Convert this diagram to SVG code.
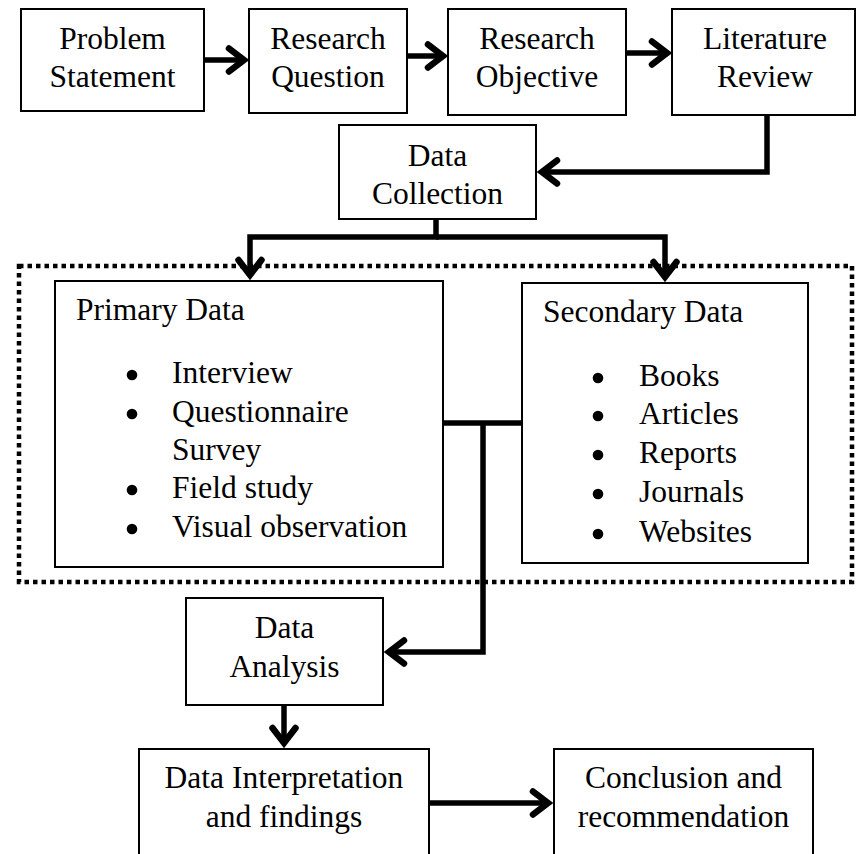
<svg xmlns="http://www.w3.org/2000/svg" width="857" height="854" viewBox="0 0 857 854">
  <style>
    .box { fill: #ffffff; stroke: #000000; stroke-width: 2; }
    .lbl { font-family: "Liberation Serif", "Times New Roman", serif; font-size: 31.5px; fill: #000000; }
    .mid { text-anchor: middle; }
    .link { fill: none; stroke: #000000; stroke-width: 5.5; stroke-linejoin: miter; }
    .frame { fill: none; stroke: #000000; stroke-width: 4.5; stroke-dasharray: 4.5 4; }
    .dot { fill: #000000; }
  </style>
  <defs>
    <marker id="head" markerUnits="userSpaceOnUse" markerWidth="40" markerHeight="40" refX="0" refY="0" viewBox="-20 -20 30 40" orient="auto" overflow="visible">
      <path d="M-15,-11.5 L0,0 L-15,11.5" fill="none" stroke="#000000" stroke-width="6.5" stroke-linecap="round" stroke-linejoin="miter"/>
    </marker>
  </defs>

  <rect x="0" y="0" width="857" height="854" fill="#ffffff"/>

  <!-- dotted grouping frame around the two data sources -->
  <rect class="frame" x="19" y="266" width="833" height="316"/>

  <g id="problem-statement">
    <rect class="box" x="21" y="9" width="183" height="102"/>
    <text class="lbl mid" x="112.5" y="49">Problem</text>
    <text class="lbl mid" x="112.5" y="87">Statement</text>
  </g>

  <g id="research-question">
    <rect class="box" x="249" y="9" width="158" height="104"/>
    <text class="lbl mid" x="328" y="49">Research</text>
    <text class="lbl mid" x="328" y="87">Question</text>
  </g>

  <g id="research-objective">
    <rect class="box" x="448" y="9" width="178" height="106"/>
    <text class="lbl mid" x="537" y="49">Research</text>
    <text class="lbl mid" x="537" y="87">Objective</text>
  </g>

  <g id="literature-review">
    <rect class="box" x="672" y="9" width="183" height="106"/>
    <text class="lbl mid" x="765" y="49">Literature</text>
    <text class="lbl mid" x="765" y="87">Review</text>
  </g>

  <g id="data-collection">
    <rect class="box" x="339" y="125" width="197" height="94"/>
    <text class="lbl mid" x="437.5" y="166">Data</text>
    <text class="lbl mid" x="437.5" y="204">Collection</text>
  </g>

  <g id="primary-data">
    <rect class="box" x="55" y="281" width="388" height="286"/>
    <text class="lbl" x="76" y="320">Primary Data</text>
    <circle class="dot" cx="132" cy="375" r="5.3"/>
    <circle class="dot" cx="132" cy="414" r="5.3"/>
    <circle class="dot" cx="132" cy="490" r="5.3"/>
    <circle class="dot" cx="132" cy="529" r="5.3"/>
    <text class="lbl" x="172" y="383">Interview</text>
    <text class="lbl" x="172" y="422">Questionnaire</text>
    <text class="lbl" x="172" y="460">Survey</text>
    <text class="lbl" x="172" y="498">Field study</text>
    <text class="lbl" x="172" y="537">Visual observation</text>
  </g>

  <g id="secondary-data">
    <rect class="box" x="522" y="283" width="286" height="280"/>
    <text class="lbl" x="543" y="322">Secondary Data</text>
    <circle class="dot" cx="598" cy="378" r="5.3"/>
    <circle class="dot" cx="598" cy="416" r="5.3"/>
    <circle class="dot" cx="598" cy="455" r="5.3"/>
    <circle class="dot" cx="598" cy="494" r="5.3"/>
    <circle class="dot" cx="598" cy="534" r="5.3"/>
    <text class="lbl" x="639" y="386">Books</text>
    <text class="lbl" x="639" y="424">Articles</text>
    <text class="lbl" x="639" y="463">Reports</text>
    <text class="lbl" x="639" y="502">Journals</text>
    <text class="lbl" x="639" y="542">Websites</text>
  </g>

  <g id="data-analysis">
    <rect class="box" x="186" y="598" width="197" height="107"/>
    <text class="lbl mid" x="284.5" y="638">Data</text>
    <text class="lbl mid" x="284.5" y="677">Analysis</text>
  </g>

  <g id="data-interpretation">
    <rect class="box" x="139" y="749" width="290" height="120"/>
    <text class="lbl mid" x="284" y="788">Data Interpretation</text>
    <text class="lbl mid" x="284" y="827">and findings</text>
  </g>

  <g id="conclusion">
    <rect class="box" x="554" y="749" width="259" height="120"/>
    <text class="lbl mid" x="683.5" y="788">Conclusion and</text>
    <text class="lbl mid" x="683.5" y="827">recommendation</text>
  </g>

  <g id="connectors">
    <path class="link" d="M204,60 H244" marker-end="url(#head)"/>
    <path class="link" d="M407,56 H443" marker-end="url(#head)"/>
    <path class="link" d="M626,53 H667" marker-end="url(#head)"/>
    <path class="link" d="M767,115 V172 H542" marker-end="url(#head)"/>
    <path class="link" d="M436,219 V237 H250 V275" marker-end="url(#head)"/>
    <path class="link" d="M436,237 H665 V277" marker-end="url(#head)"/>
    <path class="link" d="M443,423 H522"/>
    <path class="link" d="M483,423 V652 H389" marker-end="url(#head)"/>
    <path class="link" d="M284,705 V743" marker-end="url(#head)"/>
    <path class="link" d="M429,803 H548" marker-end="url(#head)"/>
  </g>
</svg>
